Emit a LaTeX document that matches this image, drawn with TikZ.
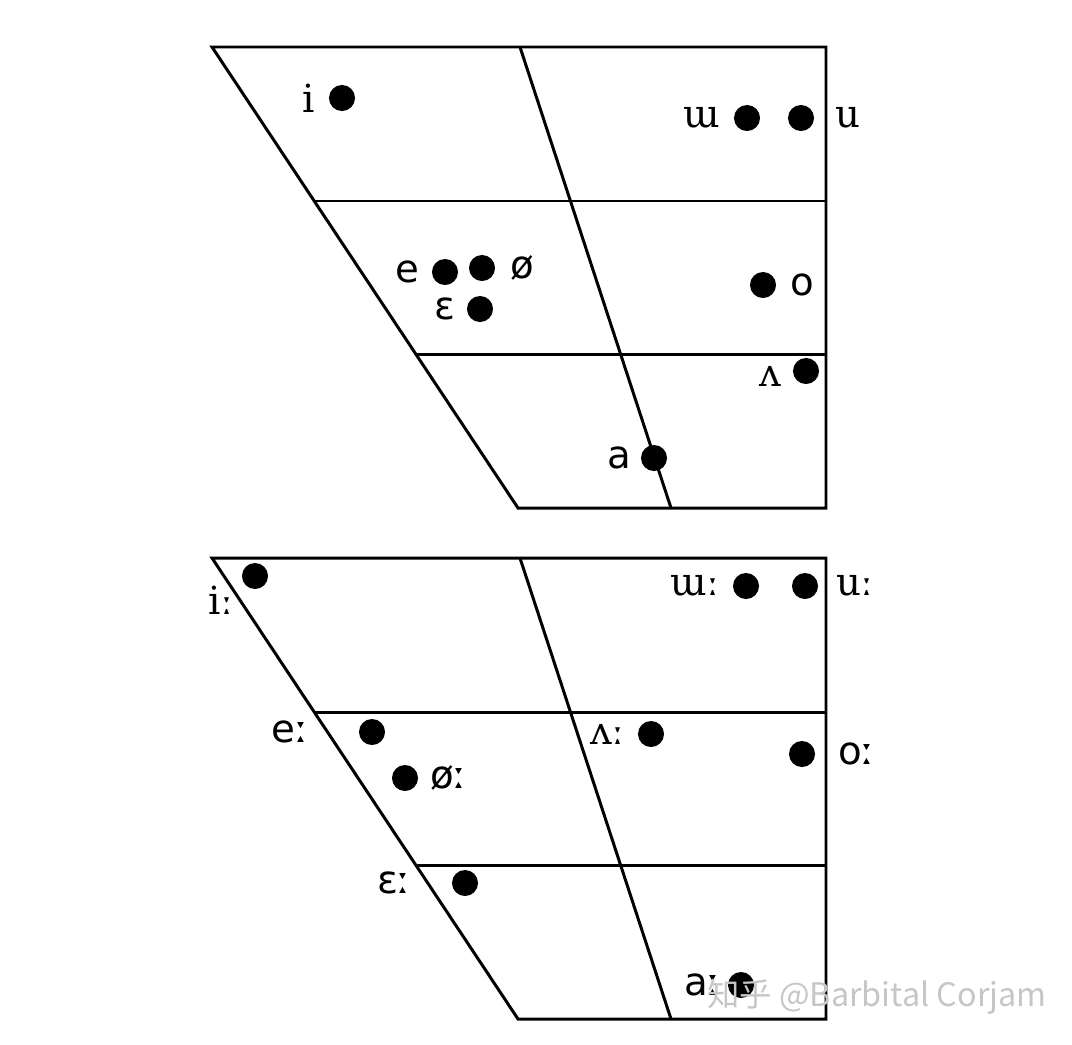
\documentclass[tikz,border=0pt]{standalone}
\usepackage{fontspec}
\setmainfont{DejaVu Sans}
\newfontfamily\ipaserif{DejaVu Serif}
\newfontfamily\cjkwm{Noto Sans CJK SC}
\usetikzlibrary{positioning}
\tikzset{
  vdot/.style={circle, fill=black, inner sep=0pt, minimum size=0.26cm},
  vsans/.style={inner sep=0pt, font=\fontsize{11}{13}\selectfont},
  vserif/.style={inner sep=0pt, font=\fontsize{11}{13}\selectfont\ipaserif},
}
\begin{document}
\begin{tikzpicture}[x=0.01cm, y=-0.01cm, line width=0.85pt]
  \useasboundingbox (0,0) rectangle (1072,1045);
  \def\Xl{212};
  \def\Xr{826};
  \def\Xbot{518};
  \def\Ytop{47};
  \def\Ybot{508};
  % the two charts
  \foreach \Y in {0,511} {
    \draw (\Xl,\Ytop+\Y) -- (\Xr,\Ytop+\Y) -- (\Xr,\Ybot+\Y) -- (\Xbot,\Ybot+\Y) -- cycle;
    \draw (314,201+\Y) -- (\Xr,201+\Y);
    \draw (416,354+\Y) -- (\Xr,354+\Y);
    \draw (520,\Ytop+\Y) -- (671,\Ybot+\Y);
  }

  % dots, short vowels
  \node[vdot] (i)   at (342,98)  {};
  \node[vdot] (ww)  at (747,118) {};
  \node[vdot] (u)   at (801,118) {};
  \node[vdot] (e)   at (445,272) {};
  \node[vdot] (oe)  at (482,268) {};
  \node[vdot] (eps) at (480,309) {};
  \node[vdot] (o)   at (763,285) {};
  \node[vdot] (vv)  at (806,371) {};
  \node[vdot] (a)   at (654,458) {};

  % labels, short vowels
  \node[vserif, left=0.11cm of i]   (li)   {i};
  \node[vserif, left=0.11cm of ww]  (lww)  {ɯ};
  \node[vserif, right=0.18cm of u]  (lu)   {u};
  \node[vsans, left=0.10cm of e]    (le)   {e};
  \node[vsans, right=0.12cm of oe]  (loe)  {ø};
  \node[vsans, left=0.09cm of eps]  (leps) {ɛ};
  \node[vsans, right=0.11cm of o]   (lo)   {o};
  \node[vserif, left=0.09cm of vv, yshift=-0.05cm] (lvv) {ʌ};
  \node[vsans, left=0.07cm of a]    (la)   {a};

  % dots, long vowels
  \node[vdot] (iL)   at (255,576) {};
  \node[vdot] (wwL)  at (746,586) {};
  \node[vdot] (uL)   at (805,586) {};
  \node[vdot] (eL)   at (372,732) {};
  \node[vdot] (oeL)  at (405,778) {};
  \node[vdot] (vvL)  at (651,734) {};
  \node[vdot] (oL)   at (802,754) {};
  \node[vdot] (epsL) at (465,883) {};
  \node[vdot] (aL)   at (741,985) {};

  % labels, long vowels
  \node[vserif] (liL) at (221,600) {iː};
  \node[vserif, left=0.10cm of wwL] (lwwL)  {ɯː};
  \node[vserif, right=0.15cm of uL] (luL)   {uː};
  \node[vsans] (leL) at (290,732)   {eː};
  \node[vsans, right=0.09cm of oeL] (loeL)  {øː};
  \node[vserif, left=0.10cm of vvL] (lvvL)  {ʌː};
  \node[vsans, right=0.20cm of oL]  (loL)   {oː};
  \node[vsans] (lepsL) at (394,883) {ɛː};
  \node[vsans, left=0.04cm of aL]   (laL)   {aː};

  % watermark
  \node[text=gray!45, font=\fontsize{9.2}{11}\selectfont\cjkwm] (wm) at (877,997) {知乎 @Barbital Corjam};
\end{tikzpicture}
\end{document}
